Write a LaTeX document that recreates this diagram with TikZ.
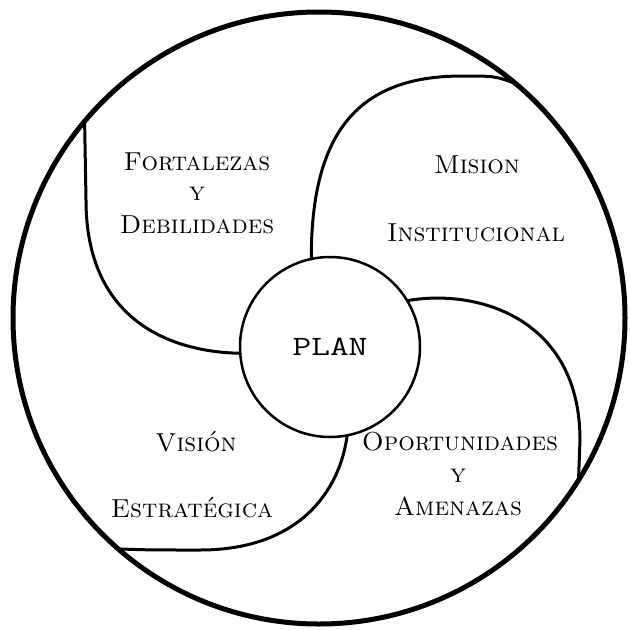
\documentclass[tikz,border=0pt]{standalone}
\usepackage{fontspec}
\begin{document}
\begin{tikzpicture}[x=1pt,y=-1pt,
  ring/.style={circle, draw, inner sep=0pt, outer sep=0pt},
  curve/.style={line width=3pt, line cap=round, line join=round},
  lbl/.style={font=\fontsize{26}{30}\selectfont\scshape, align=center, inner sep=0pt}]
\useasboundingbox[fill=white] (0,0) rectangle (630,630);
\node[ring, line width=5pt, minimum size=612pt] (outer) at (319,318) {};
\node[ring, line width=2.5pt, minimum size=180pt, font=\fontsize{28}{30}\selectfont\ttfamily] (plan) at (330,347) {\scalebox{1.3}[1]{PLAN}};
% pinwheel curves
\draw[curve] (plan.102) .. controls (311,130) and (360,76) .. (462,76) .. controls (495,76) .. (outer.50);
\draw[curve] (plan.31) .. controls (480,288) and (580,320) .. (580,440) -- (outer.-32);
\draw[curve] (plan.-79) .. controls (340,490) and (300,550) .. (200,550) .. controls (150,550) .. (outer.229);
\draw[curve] (plan.184) .. controls (170,352) and (86,320) .. (86,200) -- (outer.140);
% labels
\node[lbl] (fd1) at (197,162) {Fortalezas};
\node[lbl] (fd2) at (197,194) {y};
\node[lbl] (fd3) at (197,225) {Debilidades};
\node[lbl] (mi1) at (477,165) {Mision};
\node[lbl] (mi2) at (476,233) {Institucional};
\node[lbl] (ve1) at (196,442) {Visión};
\node[lbl] (ve2) at (192,508) {Estratégica};
\node[lbl] (oa1) at (460,442) {Oportunidades};
\node[lbl] (oa2) at (458,476) {y};
\node[lbl] (oa3) at (458,506) {Amenazas};
\end{tikzpicture}
\end{document}
